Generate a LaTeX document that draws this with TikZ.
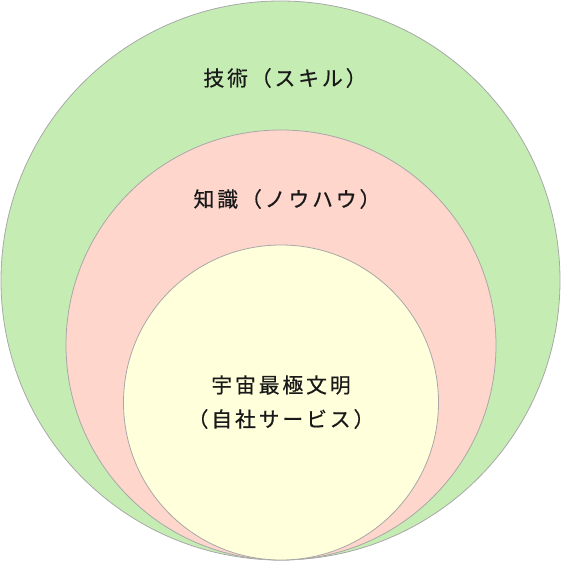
\documentclass[tikz,border=0pt]{standalone}
\usepackage{fontspec}
\newfontfamily\jp[LetterSpace=14,FakeBold=0.6]{Noto Sans CJK JP}
\definecolor{skillgreen}{HTML}{C5EDB3}
\definecolor{knowpink}{HTML}{FED6CC}
\definecolor{coreyellow}{HTML}{FFFFDB}
\definecolor{rimgray}{HTML}{A8A8A8}
\begin{document}
\begin{tikzpicture}[x=1pt,y=-1pt,
  ring/.style={draw=rimgray,line width=0.8pt},
  label/.style={font=\jp\fontsize{20.8}{24}\selectfont,text=black!90,inner sep=0pt,align=center}]
\useasboundingbox (0,0) rectangle (561,561);
\fill[ring,fill=skillgreen] (280.5,280.5) circle[radius=279.5];
\fill[ring,fill=knowpink] (281,345) circle[radius=215];
\fill[ring,fill=coreyellow] (281,402.5) circle[radius=157.5];
\node[label] (skill) at (285,78) {技術（スキル）};
\node[label] (know) at (287,199) {知識（ノウハウ）};
\node[label] (core) at (281,385) {宇宙最極文明};
\node[label] (sub) at (281,419) {（自社サービス）};
\end{tikzpicture}
\end{document}
